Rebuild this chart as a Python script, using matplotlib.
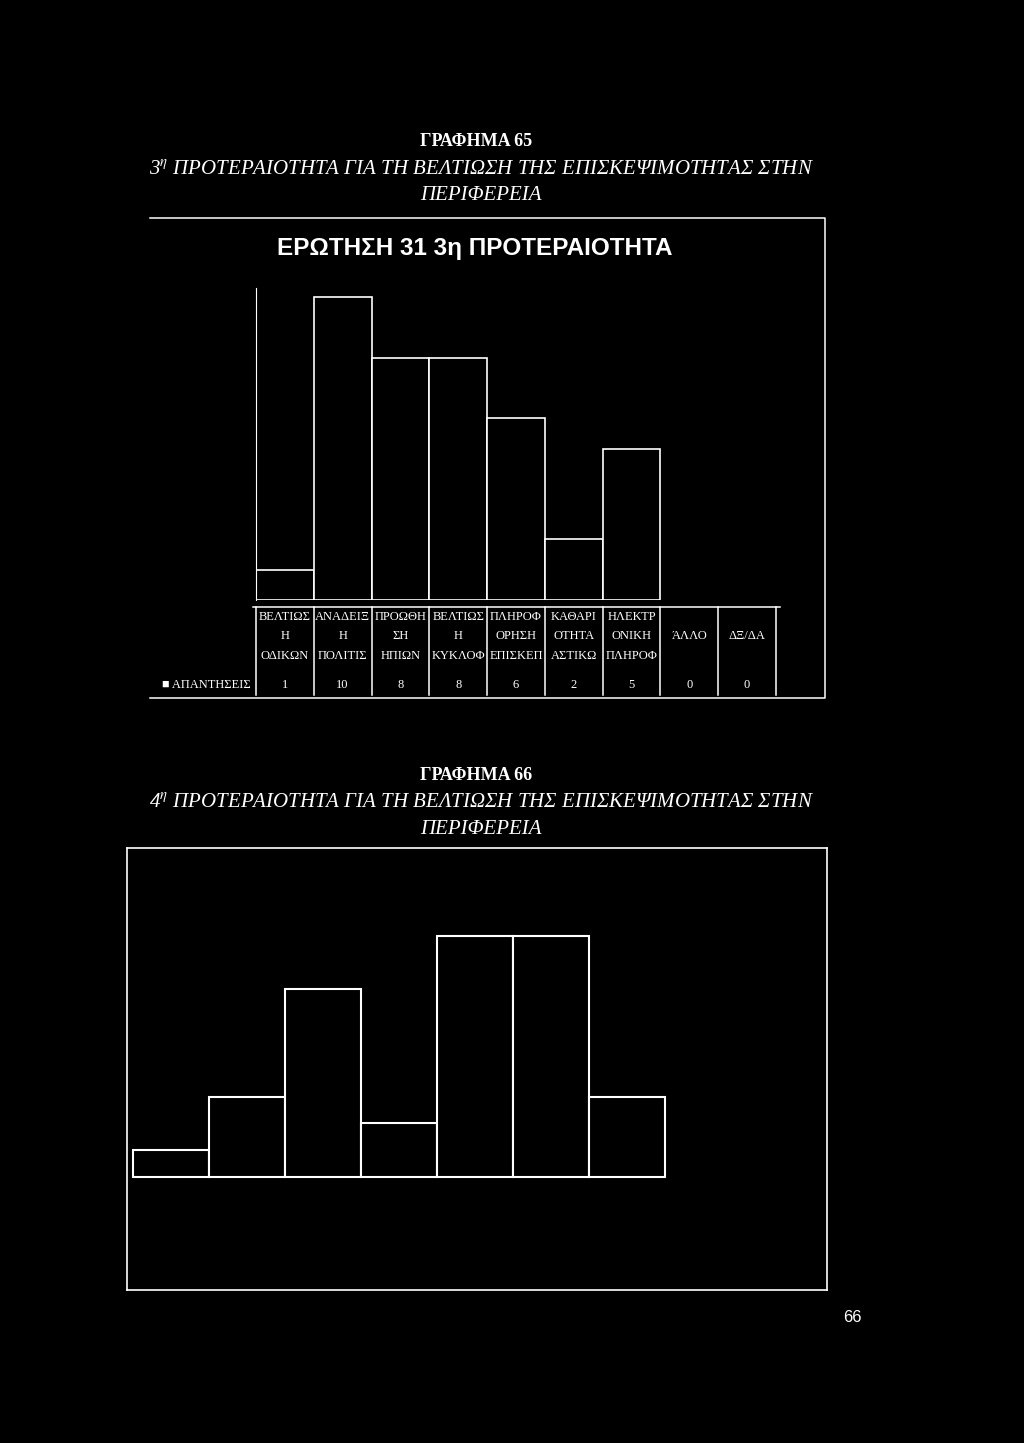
import numpy as np
import matplotlib
matplotlib.use("Agg")
import matplotlib.pyplot as plt
from matplotlib.transforms import blended_transform_factory

# ---- data ----
cat_lines_65 = [
    ["ΒΕΛΤΙΩΣ", "Η", "ΟΔΙΚΩΝ"],
    ["ΑΝΑΔΕΙΞ", "Η", "ΠΟΛΙΤΙΣ"],
    ["ΠΡΟΩΘΗ", "ΣΗ", "ΗΠΙΩΝ"],
    ["ΒΕΛΤΙΩΣ", "Η", "ΚΥΚΛΟΦ"],
    ["ΠΛΗΡΟΦ", "ΟΡΗΣΗ", "ΕΠΙΣΚΕΠ"],
    ["ΚΑΘΑΡΙ", "ΟΤΗΤΑ", "ΑΣΤΙΚΩ"],
    ["ΗΛΕΚΤΡ", "ΟΝΙΚΗ", "ΠΛΗΡΟΦ"],
    ["ΆΛΛΟ"],
    ["ΔΞ/ΔΑ"],
]
answers_65 = [1, 10, 8, 8, 6, 2, 5, 0, 0]
series_name = "ΑΠΑΝΤΗΣΕΙΣ"
answers_66 = [1, 3, 7, 2, 9, 9, 3, 0, 0]

W, H = 1024, 1443
fig = plt.figure(figsize=(W / 100, H / 100), dpi=100, facecolor="black")

def box(x0, y0, x1, y1):
    return [x0 / W, 1 - y1 / H, (x1 - x0) / W, (y1 - y0) / H]

# page overlay in pixel units
page = fig.add_axes([0, 0, 1, 1])
page.set_xlim(0, W)
page.set_ylim(H, 0)
page.axis("off")
page.set_zorder(5)
page.patch.set_alpha(0)

plt.rcParams["mathtext.fontset"] = "stix"
serif = "Liberation Serif"
sans = "Liberation Sans"

def heading(y0, num, rank):
    page.text(476, y0, "ΓΡΑΦΗΜΑ %d" % num, color="white", fontsize=13,
              family=serif, weight="bold", ha="center", va="center")
    page.text(481, y0 + 28, "%d$^{\\eta}$ ΠΡΟΤΕΡΑΙΟΤΗΤΑ ΓΙΑ ΤΗ ΒΕΛΤΙΩΣΗ ΤΗΣ "
              "ΕΠΙΣΚΕΨΙΜΟΤΗΤΑΣ ΣΤΗΝ" % rank, color="white", fontsize=15,
              family=serif, style="italic", ha="center", va="center")
    page.text(481, y0 + 54, "ΠΕΡΙΦΕΡΕΙΑ", color="white", fontsize=15,
              family=serif, style="italic", ha="center", va="center")

# ---------- chart 65 ----------
heading(142, 65, 3)
lw = 1.1
page.plot([150, 825, 825, 150], [218, 218, 698, 698], color="white", lw=lw)
page.text(475, 248, "ΕΡΩΤΗΣΗ 31 3η ΠΡΟΤΕΡΑΙΟΤΗΤΑ", color="white",
          fontsize=17.5, family=sans, weight="bold", ha="center", va="center")

ax1 = fig.add_axes(box(256, 288, 776, 600))
ax1.set_facecolor("black")
x = np.arange(len(answers_65))
ax1.bar(x, answers_65, width=1.0, color="black", edgecolor="white",
        linewidth=[1.2 if v > 0 else 0 for v in answers_65])
ax1.set_xlim(-0.5, len(answers_65) - 0.5)
ax1.set_ylim(0, 10.3)
ax1.set_xticks([])
ax1.set_yticks([])
for s in ["top", "right", "bottom"]:
    ax1.spines[s].set_visible(False)
ax1.spines["left"].set_color("white")
ax1.spines["left"].set_linewidth(0.8)

# data table under chart 65
tr = blended_transform_factory(ax1.transData, page.transData)
page.plot([253, 780], [607, 607], color="white", lw=lw)
for b in np.arange(len(answers_65) + 1) - 0.5:
    page.plot([b, b], [607, 695], color="white", lw=lw, transform=tr)
label_y = [617, 636, 656]
for i, lines in enumerate(cat_lines_65):
    if len(lines) == 1:
        page.text(i, 636, lines[0], color="white", fontsize=9, family=serif,
                  ha="center", va="center", transform=tr)
    else:
        for ln, yy in zip(lines, label_y):
            page.text(i, yy, ln, color="white", fontsize=9, family=serif,
                      ha="center", va="center", transform=tr)
    page.text(i, 685, str(answers_65[i]), color="white", fontsize=9,
              family=serif, ha="center", va="center", transform=tr)
page.text(251, 685, "■ " + series_name, color="white", fontsize=9,
          family=[serif, "DejaVu Sans"], ha="right", va="center")

# ---------- chart 66 ----------
heading(775, 66, 4)
ax2 = fig.add_axes(box(127, 848, 827, 1290))
ax2.set_facecolor("black")
x2 = np.arange(len(answers_66))
ax2.bar(x2, answers_66, width=1.0, color="black", edgecolor="white",
        linewidth=[1.5 if v > 0 else 0 for v in answers_66])
ax2.set_xlim(-0.579, 8.632)
ax2.set_ylim(-4.22, 12.28)
ax2.set_xticks([])
ax2.set_yticks([])
for s in ax2.spines.values():
    s.set_color("white")
    s.set_linewidth(1.2)

page.text(852, 1318, "66", color="white", fontsize=12, family=sans,
          ha="center", va="center")

fig.savefig("out.png", dpi=100, facecolor="black")
